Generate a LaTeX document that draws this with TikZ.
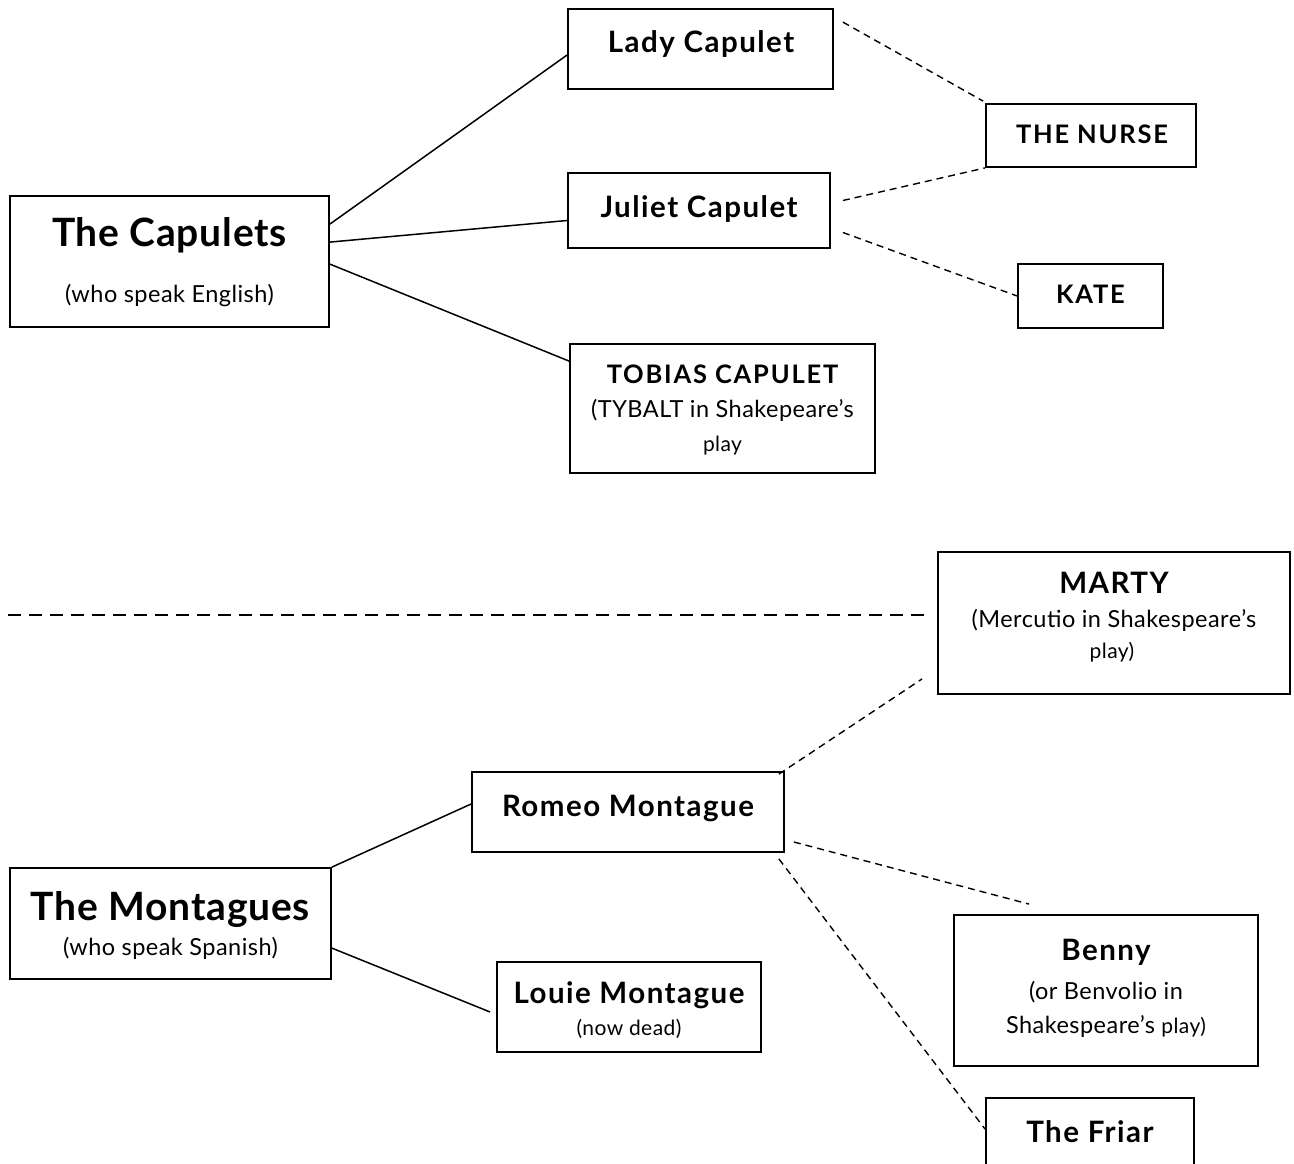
\documentclass[tikz,border=0pt]{standalone}
\usepackage{fontspec}
\setmainfont{Lato}
\begin{document}
\begin{tikzpicture}[x=1pt,y=-1pt,
  box/.style={draw, line width=1.8pt, inner sep=0pt, rectangle},
  solidline/.style={line width=1.5pt},
  dashline/.style={line width=1.4pt, dash pattern=on 7pt off 5pt},
  sepline/.style={line width=1.4pt, dash pattern=on 13pt off 8pt},
  tbig/.style={anchor=base, inner sep=0pt, font=\addfontfeatures{LetterSpace=2}\bfseries\fontsize{39}{44}\selectfont},
  tmed/.style={anchor=base, inner sep=0pt, font=\addfontfeatures{LetterSpace=5}\bfseries\fontsize{29.5}{34}\selectfont},
  tcap/.style={anchor=base, inner sep=0pt, font=\addfontfeatures{LetterSpace=7}\bfseries\fontsize{25.5}{30}\selectfont},
  tsub/.style={anchor=base, inner sep=0pt, font=\addfontfeatures{LetterSpace=2}\fontsize{23.5}{28}\selectfont},
  tsmall/.style={anchor=base, inner sep=0pt, font=\addfontfeatures{LetterSpace=2}\fontsize{21}{25}\selectfont},
]
\clip (0,0) rectangle (1294,1164);
\fill[white] (0,0) rectangle (1294,1164);

% ---- boxes ----
\node[box, minimum width=319pt, minimum height=131pt] (cap) at (169.5,261.5) {};
\node[box, minimum width=265pt, minimum height=80pt] (lady) at (700.5,49) {};
\node[box, minimum width=262pt, minimum height=75pt] (juliet) at (699,210.5) {};
\node[box, minimum width=305pt, minimum height=129pt] (tobias) at (722.5,408.5) {};
\node[box, minimum width=210pt, minimum height=63pt] (nurse) at (1091,135.5) {};
\node[box, minimum width=145pt, minimum height=64pt] (kate) at (1090.5,296) {};
\node[box, minimum width=352pt, minimum height=142pt] (marty) at (1114,623) {};
\node[box, minimum width=312pt, minimum height=80pt] (romeo) at (628,812) {};
\node[box, minimum width=321pt, minimum height=111pt] (mont) at (170.5,923.5) {};
\node[box, minimum width=264pt, minimum height=90pt] (louie) at (629,1007) {};
\node[box, minimum width=304pt, minimum height=151pt] (benny) at (1106,990.5) {};
\node[box, minimum width=208pt, minimum height=82pt] (friar) at (1090,1139) {};

% ---- texts ----
\node[tbig] (capT) at (169.5,246) {The Capulets};
\node[tsub] (capS) at (169.5,302) {(who speak English)};
\node[tmed] (ladyT) at (701,53) {Lady Capulet};
\node[tmed] (julietT) at (699,217) {Juliet Capulet};
\node[tcap] (tobiasT) at (722.5,383) {TOBIAS CAPULET};
\node[tsub] (tobiasS) at (722.5,417) {(TYBALT in Shakepeare’s};
\node[tsmall] (tobiasP) at (722.5,451) {play};
\node[tcap] (nurseT) at (1092,143) {THE NURSE};
\node[tcap] (kateT) at (1090.5,303) {KATE};
\node[tmed] (martyT) at (1114,593) {MARTY};
\node[tsub] (martyS) at (1114,627) {(Mercutio in Shakespeare’s};
\node[tsmall] (martyP) at (1112,658) {play)};
\node[tmed] (romeoT) at (628,816) {Romeo Montague};
\node[tbig] (montT) at (170.5,920) {The Montagues};
\node[tsub] (montS) at (170.5,955) {(who speak Spanish)};
\node[tmed] (louieT) at (629,1003) {Louie Montague};
\node[tsmall] (louieS) at (629,1035) {(now dead)};
\node[tmed] (bennyT) at (1106,960) {Benny};
\node[tsub] (bennyS) at (1106,999) {(or Benvolio in};
\node[tsub] (bennyP) at (1106,1033) {Shakespeare’s {\fontsize{21}{25}\selectfont play)}};
\node[tmed] (friarT) at (1090,1142) {The Friar};

% ---- solid connectors ----
\draw[solidline] ([yshift=-29pt]cap.north east) -- ([yshift=-6pt]lady.west);
\draw[solidline] ([yshift=-47pt]cap.north east) -- ([yshift=-10pt]juliet.west);
\draw[solidline] ([yshift=-69pt]cap.north east) -- ([yshift=-18pt]tobias.north west);
\draw[solidline] (mont.north east) -- ([yshift=8pt]romeo.west);
\draw[solidline] ([yshift=-81pt]mont.north east) -- ([xshift=-6pt,yshift=-5pt]louie.west);

% ---- dashed connectors ----
\draw[dashline] ([xshift=9pt,yshift=-14pt]lady.north east) -- ([xshift=-2pt,yshift=2pt]nurse.north west);
\draw[dashline] ([xshift=12pt,yshift=10pt]juliet.east) -- (nurse.south west);
\draw[dashline] ([xshift=12pt,yshift=-22pt]juliet.east) -- (kate.west);
\draw[dashline] ([xshift=-6pt,yshift=-3pt]romeo.north east) -- ([xshift=-15pt,yshift=16pt]marty.south west);
\draw[dashline] ([xshift=9pt,yshift=-30pt]romeo.east) -- ([xshift=76pt,yshift=10pt]benny.north west);
\draw[dashline] ([xshift=-6pt,yshift=-6pt]romeo.south east) -- ([yshift=-32pt]friar.north west);

% ---- separator ----
\coordinate (sepL) at (8,615);
\coordinate (sepR) at (924,615);
\draw[sepline] (sepL) -- (sepR);
\end{tikzpicture}
\end{document}
